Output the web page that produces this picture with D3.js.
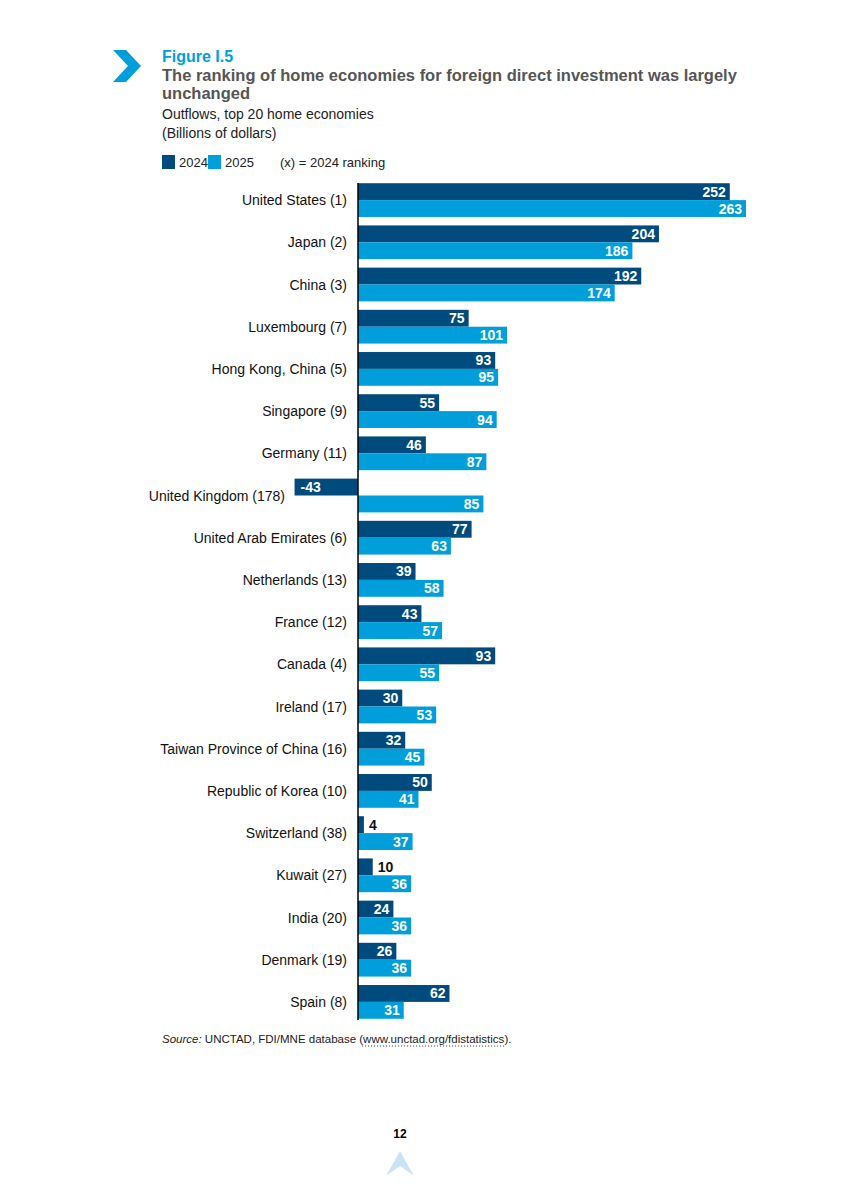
<!DOCTYPE html>
<html><head><meta charset="utf-8">
<script src="https://cdn.jsdelivr.net/npm/d3@7"></script>
<style>
body{margin:0;background:#fff;}
svg text{font-family:"Liberation Sans Narrow","Liberation Sans",Arial,sans-serif;}
</style></head>
<body><svg id="c" width="849" height="1185"></svg>
<script>
const economies = ["United States (1)","Japan (2)","China (3)","Luxembourg (7)","Hong Kong, China (5)","Singapore (9)","Germany (11)","United Kingdom (178)","United Arab Emirates (6)","Netherlands (13)","France (12)","Canada (4)","Ireland (17)","Taiwan Province of China (16)","Republic of Korea (10)","Switzerland (38)","Kuwait (27)","India (20)","Denmark (19)","Spain (8)"];
const values2024 = [252,204,192,75,93,55,46,-43,77,39,43,93,30,32,50,4,10,24,26,62];
const values2025 = [263,186,174,101,95,94,87,85,63,58,57,55,53,45,41,37,36,36,36,31];
const years = ["2024","2025"];
const colors = {"2024":"#004b7d","2025":"#009fdc"};

const svg = d3.select("#c");
const x = d3.scaleLinear().domain([0,263]).range([358,746]);
const y = d3.scaleBand().domain(economies).range([179,1023]).paddingInner(0.2).paddingOuter(0.1);
const sub = d3.scaleBand().domain(years).range([0,y.bandwidth()]);

// header
svg.append("path").attr("d","M113,50 L126,50 L141,66 L126,82 L113,82 L128,66 Z").attr("fill","#009fdc");
svg.append("text").attr("x",162).attr("y",62).attr("fill","#009fdc").attr("font-size",16).attr("font-weight","bold").style("font-family","Liberation Sans").text("Figure I.5");
svg.append("text").attr("x",162).attr("y",81).attr("fill","#555").attr("font-size",16.5).attr("font-weight","bold").style("font-family","Liberation Sans").text("The ranking of home economies for foreign direct investment was largely");
svg.append("text").attr("x",162).attr("y",99).attr("fill","#555").attr("font-size",16.5).attr("font-weight","bold").style("font-family","Liberation Sans").text("unchanged");
svg.append("text").attr("x",162).attr("y",119).attr("fill","#222").attr("font-size",14).style("font-family","Liberation Sans").text("Outflows, top 20 home economies");
svg.append("text").attr("x",162).attr("y",138).attr("fill","#222").attr("font-size",14).style("font-family","Liberation Sans").text("(Billions of dollars)");

// legend
const lg = svg.append("g").attr("transform","translate(162,155)");
years.forEach((yr,i)=>{
  lg.append("rect").attr("x",i*46).attr("y",0).attr("width",13).attr("height",14).attr("fill",colors[yr]);
  lg.append("text").attr("x",i*46+17).attr("y",12).attr("font-size",13).attr("fill","#222").text(yr);
});
lg.append("text").attr("x",118).attr("y",12).attr("font-size",13).attr("fill","#222").text("(x) = 2024 ranking");

// bars
const rows = economies.map((e,i)=>({e,v:{"2024":values2024[i],"2025":values2025[i]}}));
const g = svg.append("g");
rows.forEach(r=>{
  years.forEach(yr=>{
    const v = r.v[yr];
    const y0 = y(r.e)+sub(yr);
    const x0 = x(Math.min(0,v)), w = Math.abs(x(v)-x(0));
    g.append("rect").attr("x",x0).attr("y",y0).attr("width",w).attr("height",sub.bandwidth()).attr("fill",colors[yr]);
    const t = g.append("text").attr("y",y0+sub.bandwidth()/2+5).attr("font-size",14).attr("font-weight","bold").text(v);
    if (v < 0) t.attr("x",x(v)+6).attr("fill","#fff");
    else if (w < 25) t.attr("x",x(v)+5).attr("fill","#111");
    else t.attr("x",x(v)-4).attr("text-anchor","end").attr("fill","#fff");
  });
  g.append("text").attr("x", r.v["2024"]<0 ? 285 : 347).attr("y",y(r.e)+y.bandwidth()/2+5)
    .attr("text-anchor","end").attr("font-size",14).attr("fill","#111").text(r.e);
});
svg.append("line").attr("x1",x(0)).attr("x2",x(0)).attr("y1",183).attr("y2",1020).attr("stroke","#000").attr("stroke-width",1.5);

// source
const src = svg.append("text").attr("x",162).attr("y",1043).attr("font-size",11.5).attr("fill","#222").style("font-family","Liberation Sans");
src.append("tspan").attr("font-style","italic").text("Source:");
src.append("tspan").text(" UNCTAD, FDI/MNE database (");
src.append("tspan").text("www.unctad.org/fdistatistics").attr("id","u");
src.append("tspan").text(").");
const bb = document.getElementById("u").getBBox();
svg.append("line").attr("x1",bb.x).attr("x2",bb.x+bb.width).attr("y1",1046).attr("y2",1046).attr("stroke","#333").attr("stroke-dasharray","1,2");

svg.append("text").attr("x",400).attr("y",1138).attr("text-anchor","middle").attr("font-size",12).attr("font-weight","bold").style("font-family","Liberation Sans").text("12");
svg.append("path").attr("d","M386,1176 L400,1151 L414,1176 L400,1166 Z").attr("fill","#c8e3f5");
</script></body></html>
